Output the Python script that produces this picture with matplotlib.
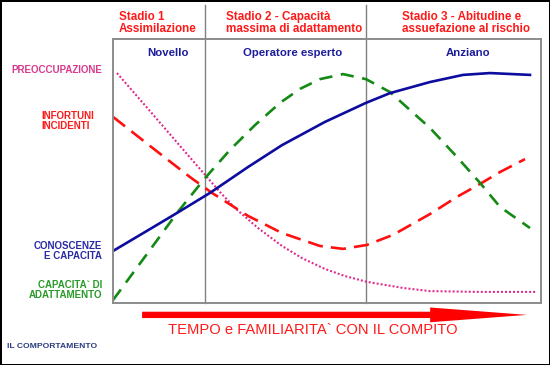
import matplotlib
matplotlib.use("Agg")
import matplotlib.pyplot as plt
from matplotlib.patches import Polygon

plt.rcParams["font.family"] = ["Liberation Sans", "DejaVu Sans"]
plt.rcParams["lines.scale_dashes"] = False

# time axis 0-100 across the box, level 0-100 bottom to top
blue_x = [0, 8.64, 14.95, 22.66, 31.54, 39.49, 49.53, 59.1, 64.72, 74.07, 81.78, 88.08, 97.43]
blue_y = [19.7, 28.0, 34.1, 41.7, 51.5, 59.8, 68.6, 75.8, 79.5, 83.7, 86.4, 87.1, 86.4]

green_x = [0, 8.64, 14.95, 21.5, 27.34, 33.18, 39.02, 43.69, 48.36, 53.74, 59.11, 64.72,
           69.39, 74.07, 80.37, 85.75, 90.42, 97.43]
green_y = [1.1, 20.1, 34.1, 47.3, 58.0, 67.4, 75.8, 81.1, 84.8, 86.7, 84.8, 79.9,
           73.1, 66.3, 55.3, 45.5, 36.4, 28.4]

red_x = [0, 8.64, 17.99, 23.13, 31.54, 39.49, 48.36, 53.74, 59.35, 65.42, 74.07,
         80.37, 85.75, 90.42, 96.26]
red_y = [70.5, 59.5, 47.7, 41.7, 33.0, 26.5, 21.6, 20.5, 22.0, 25.8, 33.7,
         40.2, 45.1, 49.6, 54.5]

pink_x = [0.93, 8.64, 15.65, 21.96, 25.0, 28.5, 33.88, 39.49, 44.16, 49.53, 54.21,
          59.35, 67.76, 74.07, 85.75, 99.07]
pink_y = [87.1, 72.7, 59.5, 47.7, 42.0, 36.0, 28.4, 21.6, 17.0, 12.9, 10.2,
          8.0, 5.7, 4.5, 4.2, 4.2]

stage_bounds = [21.5, 59.1]
stage_titles = ["Stadio 1\nAssimilazione", "Stadio 2 - Capacità\nmassima di adattamento",
                "Stadio 3 - Abitudine e\nassuefazione al rischio"]
roles = ["Novello", "Operatore esperto", "Anziano"]

W, H = 550, 365


def fx(px):
    return px / W


def fy(py):
    return 1 - py / H


fig = plt.figure(figsize=(5.5, 3.65), dpi=100)
fig.patch.set_edgecolor("black")
fig.patch.set_linewidth(2)
ax = fig.add_axes([113 / W, (H - 303) / H, 428 / W, 264 / H])
ax.set_xlim(0, 100)
ax.set_ylim(0, 100)
ax.set_xticks([])
ax.set_yticks([])
for s in ax.spines.values():
    s.set_color("#8c8c8c")
    s.set_linewidth(1.4)

for b in stage_bounds:
    ax.axvline(b, ymin=0, ymax=1.13, color="#808080", lw=1.0, clip_on=False)

kw = dict(solid_joinstyle="round", dash_joinstyle="round")
ax.plot(pink_x, pink_y, color="#e0278c", lw=1.5, dashes=(1.4, 1.5), **kw)
ax.plot(red_x, red_y, color="#ff1010", lw=1.9, dashes=(11, 5.8), **kw)
ax.plot(green_x, green_y, color="#138a13", lw=1.9, dashes=(9.5, 6.2), **kw)
ax.plot(blue_x, blue_y, color="#0c0c9e", lw=1.9, **kw)

# headers
head_x = [119, 226, 402]
for x, t in zip(head_x, stage_titles):
    fig.text(fx(x), fy(11), t, color="#ff1a1a", fontsize=8.4, fontweight="bold",
             ha="left", va="top", linespacing=1.05)
role_x = [168, 293, 468]
for x, t in zip(role_x, roles):
    fig.text(fx(x), fy(53), t, color="#1c1c9c", fontsize=8.2, fontweight="bold",
             ha="center", va="center")

# left labels
fig.text(fx(102), fy(70), "PREOCCUPAZIONE", color="#d93a8e", fontsize=7,
         fontweight="bold", ha="right", va="center")
fig.text(fx(41), fy(121), "INFORTUNI\nINCIDENTI", color="#ff1a1a", fontsize=7,
         fontweight="bold", ha="left", va="center", linespacing=1.1)
fig.text(fx(102), fy(251), "CONOSCENZE\nE CAPACITA", color="#2a2aa6", fontsize=7,
         fontweight="bold", ha="right", va="center", multialignment="right", linespacing=1.1)
fig.text(fx(102), fy(290), "CAPACITA` DI\nADATTAMENTO", color="#2a9a2a", fontsize=7,
         fontweight="bold", ha="right", va="center", multialignment="right", linespacing=1.1)

# arrow below the box
c, s, h = -0.045, 0.012, 0.028
arrow = Polygon([(0.068, c + s), (0.741, c + s), (0.741, c + h), (0.967, c),
                 (0.741, c - h), (0.741, c - s), (0.068, c - s)],
                closed=True, transform=ax.transAxes, color="#ff0000", clip_on=False, lw=0)
ax.add_patch(arrow)

fig.text(fx(313), fy(330), "TEMPO e FAMILIARITA` CON IL COMPITO", color="#ff1a1a",
         fontsize=10.6, ha="center", va="center")
fig.text(fx(7), fy(347), "IL COMPORTAMENTO", color="#2b3d80", fontsize=6.1,
         fontweight="bold", ha="left", va="center")

fig.savefig("out.png", dpi=100, edgecolor=fig.get_edgecolor())
